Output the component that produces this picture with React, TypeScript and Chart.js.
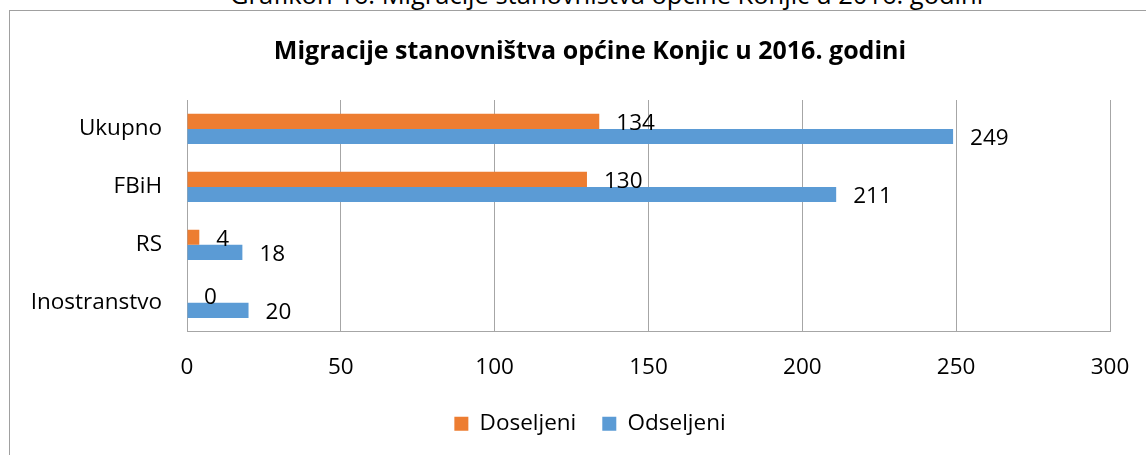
import React, { useEffect, useRef } from "react";
import { Chart, registerables } from "chart.js";

Chart.register(...registerables);

const caption = "Grafikon 16: Migracije stanovništva općine Konjic u 2016. godini";
const chartTitle = "Migracije stanovništva općine Konjic u 2016. godini";
const categories = ["Ukupno", "FBiH", "RS", "Inostranstvo"];
const seriesNames = ["Doseljeni", "Odseljeni"];
const doseljeni = [134, 130, 4, 0];
const odseljeni = [249, 211, 18, 20];
const xMin = 0;
const xMax = 300;
const xStep = 50;

const FAMILY = "'Open Sans', 'Noto Sans', sans-serif";
const FONT_SIZE = 22.5;
const GRID = "#A6A6A6";
const CANVAS_W = 1180;
const CANVAS_H = 455;

const dataLabels = {
  id: "dataLabels",
  afterDatasetsDraw(chart: any) {
    const ctx = chart.ctx;
    ctx.save();
    ctx.font = `${FONT_SIZE}px ${FAMILY}`;
    ctx.fillStyle = "#000";
    ctx.textAlign = "left";
    ctx.textBaseline = "middle";
    chart.data.datasets.forEach((ds: any, i: number) => {
      const meta = chart.getDatasetMeta(i);
      meta.data.forEach((bar: any, j: number) => {
        ctx.fillText(String(ds.data[j]), bar.x + 17, bar.y + 2);
      });
    });
    ctx.restore();
  },
};

export default function App() {
  const canvasRef = useRef<HTMLCanvasElement | null>(null);

  useEffect(() => {
    if (!canvasRef.current) return;
    const font = { family: FAMILY, size: FONT_SIZE };
    const chart = new Chart(canvasRef.current, {
      type: "bar",
      data: {
        labels: categories,
        datasets: [
          {
            label: seriesNames[0],
            data: doseljeni,
            backgroundColor: "#ED7D31",
            barPercentage: 1,
            categoryPercentage: 0.522,
          },
          {
            label: seriesNames[1],
            data: odseljeni,
            backgroundColor: "#5B9BD5",
            barPercentage: 1,
            categoryPercentage: 0.522,
          },
        ],
      },
      options: {
        indexAxis: "y",
        animation: false,
        responsive: false,
        maintainAspectRatio: false,
        layout: { padding: { left: 0, right: 0, top: 0, bottom: 10 } },
        plugins: {
          title: {
            display: true,
            text: chartTitle,
            color: "#000",
            font: { family: FAMILY, size: 25, weight: "bold" },
            padding: { top: 37, bottom: 33 },
          },
          legend: {
            position: "bottom",
            labels: {
              font,
              color: "#000",
              boxWidth: 14,
              boxHeight: 14,
              padding: 26,
            },
          },
          tooltip: { enabled: false },
        },
        scales: {
          x: {
            min: xMin,
            max: xMax,
            ticks: { stepSize: xStep, font, color: "#000", padding: 22 },
            grid: { color: GRID, drawTicks: false },
            border: { color: GRID },
            afterFit(scale: any) {
              scale.height = 54.75;
            },
          },
          y: {
            ticks: { font, color: "#000", padding: 25 },
            grid: { display: false, drawTicks: false },
            border: { color: GRID },
            afterFit(scale: any) {
              scale.width = 187;
            },
          },
          spacerRight: {
            type: "linear",
            axis: "y",
            position: "right",
            display: true,
            ticks: { display: false },
            grid: { display: false, drawTicks: false },
            border: { display: false },
            afterFit(scale: any) {
              scale.width = 70;
            },
          },
        },
      },
      plugins: [dataLabels],
    } as any);
    return () => chart.destroy();
  }, []);

  return (
    <div
      style={{
        position: "absolute",
        left: 0,
        top: 0,
        width: 1146,
        height: 455,
        overflow: "hidden",
        background: "#fff",
      }}
    >
      <div
        style={{
          position: "absolute",
          left: 230,
          top: -18.1,
          fontFamily: FAMILY,
          fontSize: 25.5,
          lineHeight: "25.5px",
          whiteSpace: "nowrap",
          color: "#000",
        }}
      >
        {caption}
      </div>
      <div
        style={{
          position: "absolute",
          left: 9,
          top: 10,
          width: 1170,
          height: 470,
          border: "1.5px solid #A0A0A0",
        }}
      />
      <canvas
        ref={canvasRef}
        width={CANVAS_W}
        height={CANVAS_H}
        style={{ position: "absolute", left: 0, top: 0, width: CANVAS_W, height: CANVAS_H }}
      />
    </div>
  );
}
